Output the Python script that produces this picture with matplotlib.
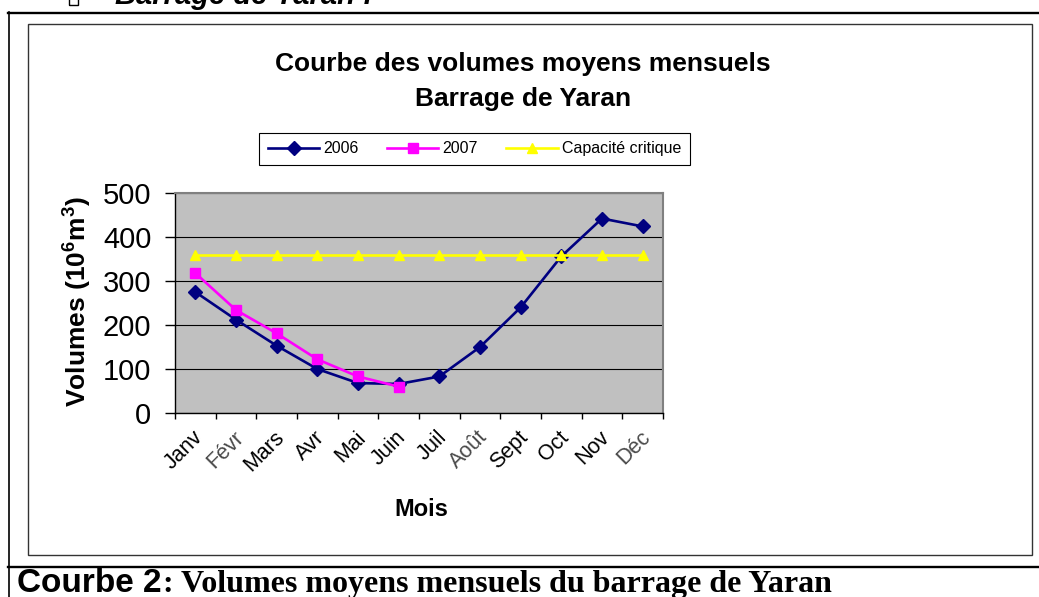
import numpy as np
import matplotlib
matplotlib.use('Agg')
import matplotlib.pyplot as plt
from matplotlib.lines import Line2D
from matplotlib.patches import Rectangle
import matplotlib.transforms as mtransforms

plt.rcParams['font.family'] = ['Liberation Sans', 'DejaVu Sans']
plt.rcParams['mathtext.fontset'] = 'custom'
plt.rcParams['mathtext.rm'] = 'Liberation Sans:bold'
plt.rcParams['mathtext.bf'] = 'Liberation Sans:bold'

# data (10^6 m3)
mois = ['Janv', 'Févr', 'Mars', 'Avr', 'Mai', 'Juin',
        'Juil', 'Août', 'Sept', 'Oct', 'Nov', 'Déc']
vol_2006 = [275, 212, 153, 100, 68, 66, 83, 150, 240, 356, 442, 424]
vol_2007 = [318, 234, 181, 122, 83, 60]
capacite = [360, 360, 360, 360, 360, 360, 360, 360, 360, 360, 360, 360]
y_ticks = [0, 100, 200, 300, 400, 500]

W, H = 1039, 597


def fx(x):
    return x / W


def fy(y):
    return 1 - y / H


fig = plt.figure(figsize=(W / 100, H / 100), dpi=100)

# page frame around the chart
tf = fig.transFigure
fig.add_artist(Line2D([fx(8), 1], [fy(12.5), fy(12.5)], transform=tf, color='black', lw=1.7))
fig.add_artist(Line2D([fx(8.5), fx(8.5)], [fy(12), 0], transform=tf, color='black', lw=1.2))
fig.add_artist(Line2D([fx(8), 1], [fy(567), fy(567)], transform=tf, color='black', lw=1.7))
fig.add_artist(Rectangle((fx(28), fy(555)), fx(1032) - fx(28), fy(24) - fy(555),
                         transform=tf, fill=False, ec='#333333', lw=1.0))

# heading of the page, cut off at the top as in the scan
fig.add_artist(Rectangle((fx(69), fy(5)), fx(78) - fx(69), fy(-6) - fy(5),
                         transform=tf, fill=False, ec='black', lw=1.0))
fig.text(fx(115), fy(4), 'Barrage de Yaran :', fontsize=21, weight='bold',
         style='italic', va='baseline', ha='left')

ax = fig.add_axes([fx(175), fy(413), (663 - 175) / W, (413 - 193) / H])
ax.set_facecolor('#C0C0C0')

x = np.arange(len(mois))
ax.plot(x, vol_2006, color='#000080', lw=1.9, marker='D', ms=7, mec='#000080', label='2006')
ax.plot(x[:len(vol_2007)], vol_2007, color='#FF00FF', lw=1.9, marker='s', ms=6.5,
        mec='#FF00FF', label='2007')
ax.plot(x, capacite, color='#FFFF00', lw=1.9, marker='^', ms=7, mec='#FFFF00',
        label='Capacité critique')

ax.set_ylim(0, 500)
ax.set_yticks(y_ticks)
ax.tick_params(axis='y', labelsize=21, length=7, width=1, pad=10)
ax.yaxis.grid(True, color='black', lw=0.8)
ax.set_axisbelow(True)

ax.set_xlim(-0.5, len(mois) - 0.5)
ax.set_xticks(np.arange(-0.5, len(mois), 1))
ax.set_xticklabels([])
ax.tick_params(axis='x', which='major', length=4, width=1)
ax.set_xticks(x, minor=True)
ax.set_xticklabels(mois, minor=True, rotation=45, ha='right', va='top',
                   rotation_mode='anchor', fontsize=15.5)
ax.tick_params(axis='x', which='minor', length=0, pad=10)
shift = mtransforms.ScaledTranslation(-3 / 100, 0, fig.dpi_scale_trans)
for lab in ax.get_xticklabels(minor=True):
    lab.set_transform(lab.get_transform() + shift)
    if lab.get_text() in ('Févr', 'Août', 'Déc'):
        lab.set_color('#4a4a4a')

for side in ('top', 'right'):
    ax.spines[side].set_color('#808080')
    ax.spines[side].set_linewidth(1.5)
for side in ('left', 'bottom'):
    ax.spines[side].set_color('black')
    ax.spines[side].set_linewidth(1.0)

# titles and axis labels
fig.text(fx(523), fy(64), 'Courbe des volumes moyens mensuels', fontsize=19,
         weight='bold', ha='center', va='center')
fig.text(fx(523), fy(99), 'Barrage de Yaran', fontsize=19, weight='bold',
         ha='center', va='center')
fig.text(fx(421), fy(509), 'Mois', fontsize=17, weight='bold', ha='center', va='center')
fig.text(fx(77), fy(302), r'Volumes (10$^{6}$m$^{3}$)', fontsize=19, weight='bold',
         rotation=90, ha='center', va='center')

leg = fig.legend(loc='center', bbox_to_anchor=(fx(474.5), fy(149)), ncol=3,
                 fontsize=11.5, handlelength=3.2, handletextpad=0.25, columnspacing=1.8,
                 fancybox=False, edgecolor='black', framealpha=1, borderpad=0.55)
leg.get_frame().set_linewidth(0.8)

# caption under the chart: sans part then serif part right after it
cap1 = fig.text(fx(17), fy(592), 'Courbe 2', fontsize=24, weight='bold',
                va='baseline', ha='left')
renderer = fig.canvas.get_renderer()
x_end = cap1.get_window_extent(renderer).x1
fig.text((x_end + 1) / W, fy(592), ': Volumes moyens mensuels du barrage de Yaran',
         family='Liberation Serif', fontsize=23, weight='bold', va='baseline', ha='left')

fig.savefig('out.png', dpi=100)
